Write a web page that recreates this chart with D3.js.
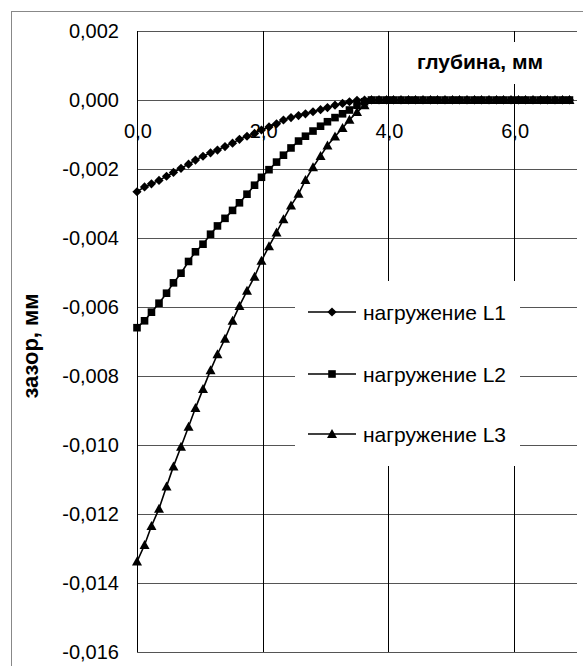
<!DOCTYPE html>
<html>
<head>
<meta charset="utf-8">
<script src="https://cdn.jsdelivr.net/npm/d3@7"></script>
<style>
  body { margin: 0; background: #fff; }
  text { font-family: "Liberation Sans", Arial, sans-serif; fill: #000; }
</style>
</head>
<body>
<svg id="chart" width="583" height="666"></svg>
<script>
// depth, mm
var depth = [0.00, 0.12, 0.23, 0.35, 0.47, 0.58, 0.70, 0.82, 0.93, 1.05,
             1.17, 1.28, 1.40, 1.52, 1.63, 1.75, 1.87, 1.98, 2.10, 2.22,
             2.33, 2.45, 2.57, 2.68, 2.80, 2.92, 3.03, 3.15, 3.27, 3.38,
             3.50, 3.62, 3.73, 3.85, 3.97, 4.08, 4.20, 4.32, 4.43, 4.55,
             4.67, 4.78, 4.90, 5.02, 5.13, 5.25, 5.37, 5.48, 5.60, 5.72,
             5.83, 5.95, 6.07, 6.18, 6.30, 6.42, 6.53, 6.65, 6.77, 6.88];

// gap, mm
var loadL1 = [-0.00266, -0.00252, -0.00243, -0.00233, -0.00221, -0.00210, -0.00198, -0.00186, -0.00174, -0.00163,
              -0.00153, -0.00145, -0.00135, -0.00125, -0.00114, -0.00105, -0.00097, -0.00087, -0.00078, -0.00069,
              -0.00058, -0.00051, -0.00045, -0.00040, -0.00034, -0.00028, -0.00022, -0.00015, -0.00010, -0.00005,
              -0.00001, 0, 0, 0, 0, 0, 0, 0, 0, 0,
              0, 0, 0, 0, 0, 0, 0, 0, 0, 0,
              0, 0, 0, 0, 0, 0, 0, 0, 0, 0];

var loadL2 = [-0.00660, -0.00640, -0.00615, -0.00589, -0.00560, -0.00530, -0.00502, -0.00468, -0.00440, -0.00418,
              -0.00389, -0.00365, -0.00343, -0.00320, -0.00298, -0.00273, -0.00247, -0.00224, -0.00202, -0.00180,
              -0.00160, -0.00139, -0.00119, -0.00105, -0.00090, -0.00076, -0.00063, -0.00051, -0.00040, -0.00029,
              -0.00015, -0.00005, 0, 0, 0, 0, 0, 0, 0, 0,
              0, 0, 0, 0, 0, 0, 0, 0, 0, 0,
              0, 0, 0, 0, 0, 0, 0, 0, 0, 0];

var loadL3 = [-0.01338, -0.01290, -0.01235, -0.01185, -0.01120, -0.01062, -0.01005, -0.00947, -0.00893, -0.00838,
              -0.00783, -0.00737, -0.00692, -0.00640, -0.00597, -0.00553, -0.00512, -0.00466, -0.00424, -0.00384,
              -0.00346, -0.00306, -0.00272, -0.00232, -0.00195, -0.00162, -0.00132, -0.00106, -0.00081, -0.00057,
              -0.00035, -0.00015, 0, 0, 0, 0, 0, 0, 0, 0,
              0, 0, 0, 0, 0, 0, 0, 0, 0, 0,
              0, 0, 0, 0, 0, 0, 0, 0, 0, 0];

var seriesNames = ["нагружение L1", "нагружение L2", "нагружение L3"];
var xTicks = [0, 2, 4, 6];
var yTicks = [0.002, 0, -0.002, -0.004, -0.006, -0.008, -0.010, -0.012, -0.014, -0.016];

var markers = {
  diamond: "M0,-4.6L4.6,0L0,4.6L-4.6,0Z",
  square: "M-3.8,-3.8H3.8V3.8H-3.8Z",
  triangle: "M0,-5L5,4H-5Z"
};

var series = [
  { name: seriesNames[0], values: loadL1, marker: markers.diamond },
  { name: seriesNames[1], values: loadL2, marker: markers.square },
  { name: seriesNames[2], values: loadL3, marker: markers.triangle }
];

var svg = d3.select("#chart");

var x = d3.scaleLinear().domain([0, 7]).range([137, 577]),
    y = d3.scaleLinear().domain([-0.016, 0.002]).range([652, 31]);

var fmtY = function(d) { return d3.format(".3f")(d).replace(".", ",").replace("−", "-"); },
    fmtX = function(d) { return d3.format(".1f")(d).replace(".", ","); };

// outer chart frame
svg.append("rect")
    .attr("x", 11.5)
    .attr("y", 11.5)
    .attr("width", 620)
    .attr("height", 700)
    .attr("fill", "#fff")
    .attr("stroke", "#888")
    .attr("stroke-width", 1);

// horizontal gridlines
svg.append("g")
  .selectAll("line")
    .data(yTicks)
    .enter()
  .append("line")
    .attr("x1", x(0))
    .attr("x2", x(7))
    .attr("y1", function(d) { return Math.round(y(d)) + 0.5; })
    .attr("y2", function(d) { return Math.round(y(d)) + 0.5; })
    .attr("stroke", "#555");

// y tick labels
svg.append("g")
  .selectAll("text")
    .data(yTicks)
    .enter()
  .append("text")
    .attr("x", 119)
    .attr("y", function(d) { return y(d); })
    .attr("dy", "0.36em")
    .attr("text-anchor", "end")
    .style("font-size", "20px")
    .text(fmtY);

// x tick labels (axis crosses at 0)
svg.append("g")
  .selectAll("text")
    .data(xTicks)
    .enter()
  .append("text")
    .attr("x", function(d) { return x(d) + 1; })
    .attr("y", y(0) + 38)
    .attr("text-anchor", "middle")
    .style("font-size", "20px")
    .text(fmtX);

// vertical gridlines + y axis
svg.append("g")
  .selectAll("line")
    .data(xTicks)
    .enter()
  .append("line")
    .attr("x1", function(d) { return Math.round(x(d)) + 0.5; })
    .attr("x2", function(d) { return Math.round(x(d)) + 0.5; })
    .attr("y1", y(0.002))
    .attr("y2", y(-0.016))
    .attr("stroke", "#000");

// x axis title with white background
var xTitle = svg.append("g");
xTitle.append("rect")
    .attr("x", 410)
    .attr("y", 42)
    .attr("width", 142)
    .attr("height", 42)
    .attr("fill", "#fff");
xTitle.append("text")
    .attr("x", 480)
    .attr("y", 69)
    .attr("text-anchor", "middle")
    .style("font-size", "21px")
    .style("font-weight", "bold")
    .text("глубина, мм");

// y axis title
svg.append("text")
    .attr("transform", "translate(38,346) rotate(-90)")
    .attr("text-anchor", "middle")
    .style("font-size", "22px")
    .style("font-weight", "bold")
    .text("зазор, мм");

// series
var line = d3.line()
    .x(function(d, i) { return x(depth[i]); })
    .y(function(d) { return y(d); });

var plot = svg.append("g");

series.forEach(function(s) {
  plot.append("path")
      .attr("d", line(s.values))
      .attr("fill", "none")
      .attr("stroke", "#000")
      .attr("stroke-width", 1.6);

  plot.selectAll(null)
      .data(s.values)
      .enter()
    .append("path")
      .attr("d", s.marker)
      .attr("transform", function(d, i) { return "translate(" + x(depth[i]) + "," + y(d) + ")"; })
      .attr("fill", "#000");
});

// legend
var legend = svg.append("g");
legend.append("rect")
    .attr("x", 295)
    .attr("y", 281)
    .attr("width", 225)
    .attr("height", 185)
    .attr("fill", "#fff");

var legendY = [312, 374, 434];

var item = legend.selectAll(".item")
    .data(series)
    .enter()
  .append("g")
    .attr("class", "item")
    .attr("transform", function(d, i) { return "translate(0," + legendY[i] + ")"; });

item.append("line")
    .attr("x1", 308)
    .attr("x2", 356)
    .attr("stroke", "#000")
    .attr("stroke-width", 1.6);

item.append("path")
    .attr("d", function(d) { return d.marker; })
    .attr("transform", "translate(332,0)")
    .attr("fill", "#000");

item.append("text")
    .attr("x", 363)
    .attr("dy", "0.36em")
    .style("font-size", "21px")
    .text(function(d) { return d.name; });
</script>
</body>
</html>
